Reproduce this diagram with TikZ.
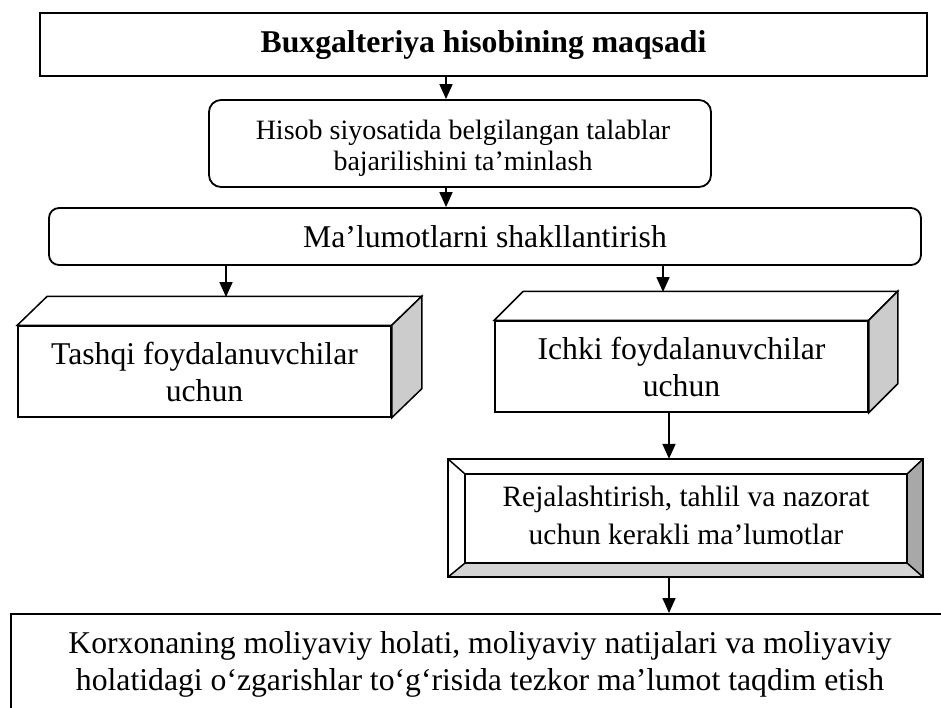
\documentclass[tikz,border=0pt]{standalone}
\usepackage{fontspec}
\setmainfont{Liberation Serif}
\usetikzlibrary{arrows.meta,calc}
\definecolor{sideface}{HTML}{CCCCCC}
\definecolor{bevlight}{HTML}{D4D4D4}
\definecolor{bevdark}{HTML}{A8A8A8}
\tikzset{
  frame/.style={draw, line width=1.8pt, inner sep=0pt, align=center, fill=white},
  flowbox/.style={frame, rounded corners=12pt},
  facebox/.style={draw, line width=1.5pt, inner sep=0pt, align=center},
  face/.style={draw, line width=1.5pt, line join=miter},
  link/.style={line width=1.7pt, -{Triangle[length=15pt,width=13pt]}},
}
\begin{document}
\begin{tikzpicture}[x=1pt,y=-1pt]
\clip (0,0) rectangle (941,707);

% header
\node[frame, line width=2pt, minimum width=887pt, minimum height=63pt,
      font=\fontsize{31.7}{38}\selectfont\bfseries] (goal) at (483.5,44.5)
      {Buxgalteriya hisobining maqsadi};

% accounting policy requirements
\node[flowbox, minimum width=502pt, minimum height=87pt] (policy) at (460,143.5) {};
\node[align=center, font=\fontsize{28}{31}\selectfont] (policy-text) at (463,148)
      {Hisob siyosatida belgilangan talablar\\bajarilishini ta’minlash};

% forming information
\node[flowbox, rounded corners=10pt, minimum width=872pt, minimum height=57pt,
      font=\fontsize{31.7}{36}\selectfont] (forming) at (485,236.5)
      {Ma’lumotlarni shakllantirish};

% external users (3D block)
\node[facebox, minimum width=373pt, minimum height=91pt,
      font=\fontsize{31.7}{37}\selectfont] (external) at (204.5,371.5)
      {Tashqi foydalanuvchilar\\uchun};
\draw[face, fill=white] (external.north west) -- ++(30,-29) -- ($(external.north east)+(30,-29)$)
      -- (external.north east) -- cycle;
\draw[face, fill=sideface] (external.north east) -- ++(30,-29) -- ($(external.south east)+(30,-29)$)
      -- (external.south east) -- cycle;
\coordinate (external-in) at (226,297);

% internal users (3D block)
\node[facebox, minimum width=373pt, minimum height=91pt,
      font=\fontsize{31.7}{37}\selectfont] (internal) at (681.5,366.5)
      {Ichki foydalanuvchilar\\uchun};
\draw[face, fill=white] (internal.north west) -- ++(29,-29) -- ($(internal.north east)+(29,-29)$)
      -- (internal.north east) -- cycle;
\draw[face, fill=sideface] (internal.north east) -- ++(29,-29) -- ($(internal.south east)+(29,-29)$)
      -- (internal.south east) -- cycle;
\coordinate (internal-in) at (663,292);

% bevelled block: planning, analysis and control
\node[minimum width=475pt, minimum height=118pt, inner sep=0pt] (bevel) at (685.5,518) {};
\node[minimum width=442pt, minimum height=89pt, inner sep=0pt] (bevel-in) at (686,518.5) {};
\fill[bevlight] (bevel.south west) -- (bevel.south east) -- (bevel-in.south east) -- (bevel-in.south west) -- cycle;
\fill[bevdark] (bevel.north east) -- (bevel.south east) -- (bevel-in.south east) -- (bevel-in.north east) -- cycle;
\draw[face] (bevel.north west) rectangle (bevel.south east);
\draw[face] (bevel-in.north west) rectangle (bevel-in.south east);
\draw[face] (bevel.north west) -- (bevel-in.north west)
            (bevel.north east) -- (bevel-in.north east)
            (bevel.south west) -- (bevel-in.south west)
            (bevel.south east) -- (bevel-in.south east);
\node[align=center, font=\fontsize{29.5}{37.5}\selectfont] (planning) at ([yshift=3pt]bevel-in.center)
      {Rejalashtirish, tahlil va nazorat\\uchun kerakli ma’lumotlar};

% final result
\node[frame, line width=2.2pt, minimum width=1000pt, minimum height=160pt, anchor=north west]
      (report) at (10,613) {};
\node[align=center, font=\fontsize{31.7}{37}\selectfont] (report-text) at (480,664)
      {Korxonaning moliyaviy holati, moliyaviy natijalari va moliyaviy\\
       holatidagi o‘zgarishlar to‘g‘risida tezkor ma’lumot taqdim etish};

% connectors
\draw[link] (goal.south -| 446,0) -- (policy.north -| 446,0);
\draw[link] (policy.south -| 446,0) -- (forming.north -| 446,0);
\draw[link] (external-in |- forming.south) -- (external-in);
\draw[link] (internal-in |- forming.south) -- (internal-in);
\draw[link] ([xshift=-12.5pt]internal.south) -- ([xshift=-12.5pt]internal.south |- bevel.north);
\draw[link] ([xshift=-16.5pt]bevel.south) -- ([xshift=-16.5pt]bevel.south |- report.north);
\end{tikzpicture}
\end{document}
